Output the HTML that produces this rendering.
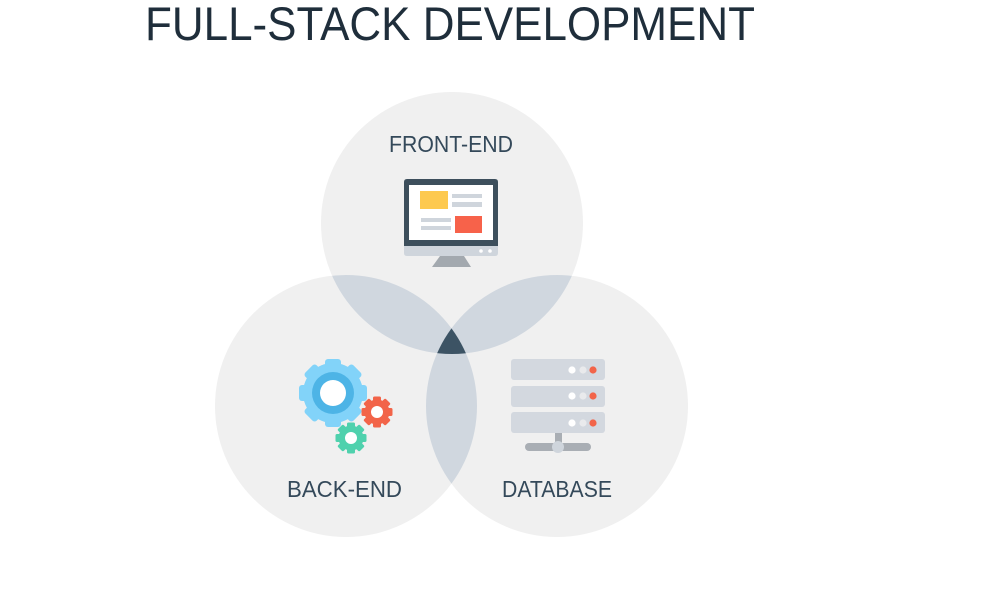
<!DOCTYPE html>
<html><head><meta charset="utf-8"><style>
html,body{margin:0;padding:0;background:#fff;}
svg{display:block;}
</style></head><body>
<svg width="982" height="595" viewBox="0 0 982 595" xmlns="http://www.w3.org/2000/svg">
<defs>
<clipPath id="cTop"><circle cx="452" cy="223" r="131"/></clipPath>
<clipPath id="cLeft"><circle cx="346" cy="406" r="131"/></clipPath>
<clipPath id="cRight"><circle cx="557" cy="406" r="131"/></clipPath>
</defs>
<rect width="982" height="595" fill="#ffffff"/>
<text x="145" y="40" font-family="Liberation Sans, sans-serif" font-size="47" fill="#1f2e3b" textLength="610" lengthAdjust="spacingAndGlyphs">FULL-STACK DEVELOPMENT</text>

<!-- circles -->
<circle cx="452" cy="223" r="131" fill="#f0f0f0"/>
<circle cx="346" cy="406" r="131" fill="#f0f0f0"/>
<circle cx="557" cy="406" r="131" fill="#f0f0f0"/>
<!-- pairwise lenses -->
<g clip-path="url(#cTop)"><circle cx="346" cy="406" r="131" fill="#d0d7df"/><circle cx="557" cy="406" r="131" fill="#d0d7df"/></g>
<g clip-path="url(#cLeft)"><circle cx="557" cy="406" r="131" fill="#d0d7df"/></g>
<!-- triple -->
<g clip-path="url(#cTop)"><g clip-path="url(#cLeft)"><circle cx="557" cy="406" r="131" fill="#3c5364"/></g></g>

<!-- labels -->
<text x="389" y="152" font-family="Liberation Sans, sans-serif" font-size="23" fill="#34495a" textLength="124" lengthAdjust="spacingAndGlyphs">FRONT-END</text>
<text x="287" y="497" font-family="Liberation Sans, sans-serif" font-size="23" fill="#34495a" textLength="115" lengthAdjust="spacingAndGlyphs">BACK-END</text>
<text x="502" y="497" font-family="Liberation Sans, sans-serif" font-size="23" fill="#34495a" textLength="110" lengthAdjust="spacingAndGlyphs">DATABASE</text>

<!-- monitor -->
<path d="M440 256 L464 256 L471 267 L432 267 Z" fill="#a3a9af"/>
<path d="M404 246 L498 246 L498 253 Q498 256 495 256 L407 256 Q404 256 404 253 Z" fill="#cfd5dc"/>
<path d="M404 182 Q404 179 407 179 L495 179 Q498 179 498 182 L498 246 L404 246 Z" fill="#3d4f5c"/>
<rect x="409" y="185" width="84" height="55" fill="#ffffff"/>
<rect x="420" y="191" width="28" height="18" fill="#fdc94f"/>
<rect x="452" y="194" width="30" height="4" fill="#cfd5dc"/>
<rect x="452" y="202" width="30" height="5" fill="#cfd5dc"/>
<rect x="455" y="216" width="27" height="17" fill="#f7624a"/>
<rect x="421" y="218" width="30" height="4" fill="#cfd5dc"/>
<rect x="421" y="226" width="30" height="4" fill="#cfd5dc"/>
<circle cx="481" cy="251" r="1.8" fill="#ffffff"/>
<circle cx="490" cy="251" r="1.8" fill="#ffffff"/>

<!-- big gear -->
<g transform="translate(333,393)">
<g fill="#82d3f9">
<circle r="30"/>
<rect x="-8" y="-34" width="16" height="10" rx="3"/>
<rect x="-8" y="-34" width="16" height="10" rx="3" transform="rotate(45)"/>
<rect x="-8" y="-34" width="16" height="10" rx="3" transform="rotate(90)"/>
<rect x="-8" y="-34" width="16" height="10" rx="3" transform="rotate(135)"/>
<rect x="-8" y="-34" width="16" height="10" rx="3" transform="rotate(180)"/>
<rect x="-8" y="-34" width="16" height="10" rx="3" transform="rotate(225)"/>
<rect x="-8" y="-34" width="16" height="10" rx="3" transform="rotate(270)"/>
<rect x="-8" y="-34" width="16" height="10" rx="3" transform="rotate(315)"/>
</g>
<circle r="21" fill="#4db4e6"/>
<circle r="13" fill="#ffffff"/>
</g>
<!-- red gear -->
<g transform="translate(377,412)">
<g fill="#f26449">
<circle r="12.5"/>
<rect x="-4" y="-15.5" width="8" height="6" rx="1.5"/>
<rect x="-4" y="-15.5" width="8" height="6" rx="1.5" transform="rotate(45)"/>
<rect x="-4" y="-15.5" width="8" height="6" rx="1.5" transform="rotate(90)"/>
<rect x="-4" y="-15.5" width="8" height="6" rx="1.5" transform="rotate(135)"/>
<rect x="-4" y="-15.5" width="8" height="6" rx="1.5" transform="rotate(180)"/>
<rect x="-4" y="-15.5" width="8" height="6" rx="1.5" transform="rotate(225)"/>
<rect x="-4" y="-15.5" width="8" height="6" rx="1.5" transform="rotate(270)"/>
<rect x="-4" y="-15.5" width="8" height="6" rx="1.5" transform="rotate(315)"/>
</g>
<circle r="6" fill="#ffffff"/>
</g>
<!-- green gear -->
<g transform="translate(351,438)">
<g fill="#4fd1ad">
<circle r="12.5"/>
<rect x="-4" y="-15.5" width="8" height="6" rx="1.5"/>
<rect x="-4" y="-15.5" width="8" height="6" rx="1.5" transform="rotate(45)"/>
<rect x="-4" y="-15.5" width="8" height="6" rx="1.5" transform="rotate(90)"/>
<rect x="-4" y="-15.5" width="8" height="6" rx="1.5" transform="rotate(135)"/>
<rect x="-4" y="-15.5" width="8" height="6" rx="1.5" transform="rotate(180)"/>
<rect x="-4" y="-15.5" width="8" height="6" rx="1.5" transform="rotate(225)"/>
<rect x="-4" y="-15.5" width="8" height="6" rx="1.5" transform="rotate(270)"/>
<rect x="-4" y="-15.5" width="8" height="6" rx="1.5" transform="rotate(315)"/>
</g>
<circle r="6" fill="#ffffff"/>
</g>

<!-- server -->
<rect x="555" y="432" width="7" height="12" fill="#a9aeb4"/>
<rect x="525" y="443" width="66" height="8" rx="4" fill="#a9aeb4"/>
<circle cx="558" cy="447" r="6" fill="#cfd5dc"/>
<rect x="511" y="359" width="94" height="21" rx="3" fill="#d3d8df"/>
<rect x="511" y="386" width="94" height="21" rx="3" fill="#d3d8df"/>
<rect x="511" y="412" width="94" height="21" rx="3" fill="#d3d8df"/>
<g>
<circle cx="572" cy="370" r="3.6" fill="#ffffff"/><circle cx="583" cy="370" r="3.6" fill="#e9eaec"/><circle cx="593" cy="370" r="3.6" fill="#f26449"/>
<circle cx="572" cy="396" r="3.6" fill="#ffffff"/><circle cx="583" cy="396" r="3.6" fill="#e9eaec"/><circle cx="593" cy="396" r="3.6" fill="#f26449"/>
<circle cx="572" cy="423" r="3.6" fill="#ffffff"/><circle cx="583" cy="423" r="3.6" fill="#e9eaec"/><circle cx="593" cy="423" r="3.6" fill="#f26449"/>
</g>
</svg>
</body></html>
